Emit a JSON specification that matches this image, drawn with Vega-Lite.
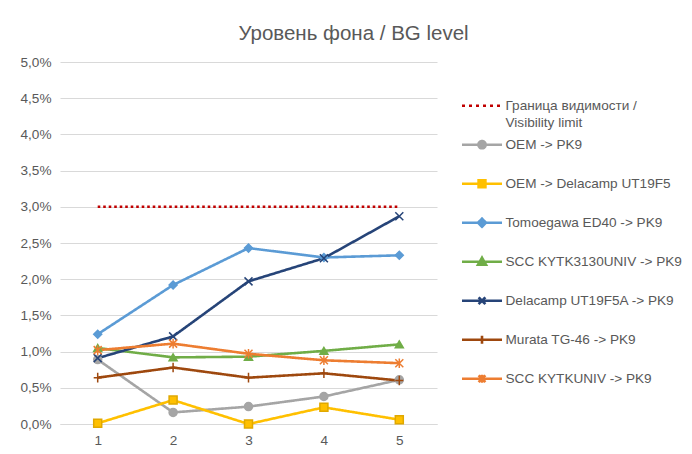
{
  "$schema": "https://vega.github.io/schema/vega-lite/v6.json",
  "width": 377,
  "height": 362,
  "autosize": "none",
  "padding": {"left": 60, "top": 62, "right": 255, "bottom": 30},
  "background": "white",
  "config": {
    "font": "Liberation Sans",
    "view": {"stroke": null}
  },
  "title": {
    "text": "Уровень фона / BG level",
    "font": "Liberation Sans",
    "fontSize": 20.5,
    "fontWeight": "normal",
    "color": "#595959",
    "anchor": "middle",
    "dx": 105,
    "offset": 11
  },
  "data": {
    "values": [
      {"x": "1", "series": "Граница видимости / Visibility limit", "v": 3.0},
      {"x": "2", "series": "Граница видимости / Visibility limit", "v": 3.0},
      {"x": "3", "series": "Граница видимости / Visibility limit", "v": 3.0},
      {"x": "4", "series": "Граница видимости / Visibility limit", "v": 3.0},
      {"x": "5", "series": "Граница видимости / Visibility limit", "v": 3.0},
      {"x": "1", "series": "OEM -> PK9", "v": 0.89},
      {"x": "2", "series": "OEM -> PK9", "v": 0.16},
      {"x": "3", "series": "OEM -> PK9", "v": 0.24},
      {"x": "4", "series": "OEM -> PK9", "v": 0.38},
      {"x": "5", "series": "OEM -> PK9", "v": 0.61},
      {"x": "1", "series": "OEM -> Delacamp UT19F5", "v": 0.01},
      {"x": "2", "series": "OEM -> Delacamp UT19F5", "v": 0.33},
      {"x": "3", "series": "OEM -> Delacamp UT19F5", "v": 0.0},
      {"x": "4", "series": "OEM -> Delacamp UT19F5", "v": 0.23},
      {"x": "5", "series": "OEM -> Delacamp UT19F5", "v": 0.06},
      {"x": "1", "series": "Tomoegawa ED40 -> PK9", "v": 1.24},
      {"x": "2", "series": "Tomoegawa ED40 -> PK9", "v": 1.92},
      {"x": "3", "series": "Tomoegawa ED40 -> PK9", "v": 2.43},
      {"x": "4", "series": "Tomoegawa ED40 -> PK9", "v": 2.3},
      {"x": "5", "series": "Tomoegawa ED40 -> PK9", "v": 2.33},
      {"x": "1", "series": "SCC KYTK3130UNIV -> PK9", "v": 1.05},
      {"x": "2", "series": "SCC KYTK3130UNIV -> PK9", "v": 0.92},
      {"x": "3", "series": "SCC KYTK3130UNIV -> PK9", "v": 0.93},
      {"x": "4", "series": "SCC KYTK3130UNIV -> PK9", "v": 1.01},
      {"x": "5", "series": "SCC KYTK3130UNIV -> PK9", "v": 1.1},
      {"x": "1", "series": "Delacamp UT19F5A -> PK9", "v": 0.91},
      {"x": "2", "series": "Delacamp UT19F5A -> PK9", "v": 1.21},
      {"x": "3", "series": "Delacamp UT19F5A -> PK9", "v": 1.97},
      {"x": "4", "series": "Delacamp UT19F5A -> PK9", "v": 2.29},
      {"x": "5", "series": "Delacamp UT19F5A -> PK9", "v": 2.87},
      {"x": "1", "series": "Murata TG-46 -> PK9", "v": 0.64},
      {"x": "2", "series": "Murata TG-46 -> PK9", "v": 0.78},
      {"x": "3", "series": "Murata TG-46 -> PK9", "v": 0.64},
      {"x": "4", "series": "Murata TG-46 -> PK9", "v": 0.7},
      {"x": "5", "series": "Murata TG-46 -> PK9", "v": 0.6},
      {"x": "1", "series": "SCC KYTKUNIV -> PK9", "v": 1.02},
      {"x": "2", "series": "SCC KYTKUNIV -> PK9", "v": 1.11},
      {"x": "3", "series": "SCC KYTKUNIV -> PK9", "v": 0.97},
      {"x": "4", "series": "SCC KYTKUNIV -> PK9", "v": 0.88},
      {"x": "5", "series": "SCC KYTKUNIV -> PK9", "v": 0.84}
    ]
  },
  "encoding": {
    "x": {
      "field": "x",
      "type": "ordinal",
      "scale": {"type": "point", "padding": 0.5},
      "axis": {
        "title": null,
        "labelAngle": 0,
        "labelFontSize": 13.6,
        "labelColor": "#595959",
        "labelFont": "Liberation Sans",
        "ticks": false,
        "labelPadding": 9,
        "domain": true,
        "domainColor": "#D9D9D9",
        "domainWidth": 1,
        "grid": false
      }
    },
    "y": {
      "field": "v",
      "type": "quantitative",
      "scale": {"domain": [0, 5], "nice": false, "zero": true},
      "axis": {
        "title": null,
        "values": [0, 0.5, 1, 1.5, 2, 2.5, 3, 3.5, 4, 4.5, 5],
        "labelExpr": "replace(format(datum.value, '.1f'), '.', ',') + '%'",
        "labelFontSize": 13.6,
        "labelColor": "#595959",
        "labelFont": "Liberation Sans",
        "ticks": false,
        "domain": false,
        "labelPadding": 9,
        "gridColor": "#D9D9D9",
        "gridWidth": 1
      }
    }
  },
  "layer": [
    {
      "mark": {"type": "line", "strokeWidth": 2.6, "strokeJoin": "round"},
      "encoding": {
        "color": {
          "field": "series",
          "type": "nominal",
          "scale": {
            "domain": ["Граница видимости / Visibility limit", "OEM -> PK9", "OEM -> Delacamp UT19F5", "Tomoegawa ED40 -> PK9", "SCC KYTK3130UNIV -> PK9", "Delacamp UT19F5A -> PK9", "Murata TG-46 -> PK9", "SCC KYTKUNIV -> PK9"],
            "range": ["#C00000", "#A5A5A5", "#FFC000", "#5B9BD5", "#70AD47", "#264478", "#9E480E", "#ED7D31"]
          },
          "legend": {
            "title": null,
            "orient": "none",
            "legendX": 400.5,
            "legendY": 33.7,
            "padding": 0,
            "rowPadding": 0,
            "symbolSize": 1600,
            "symbolStrokeWidth": 2.6,
            "labelFontSize": 13.6,
            "labelFont": "Liberation Sans",
            "labelColor": "#595959",
            "labelLimit": 300,
            "labelOffset": 2,
            "labelExpr": "datum.label === 'Граница видимости / Visibility limit' ? ['Граница видимости /', 'Visibility limit'] : datum.label",
            "encode": {
              "labels": {
                "update": {
                  "lineHeight": {"value": 17},
                  "y": {"value": 10}
                }
              },
              "symbols": {
                "update": {
                  "y": {"value": 10},
                  "shape": {"signal": "'M0,1.17' + (datum.value === 'OEM -> PK9' ? 'M-1,0H1M-0.18,0A0.18,0.18 0 1,0 0.18,0A0.18,0.18 0 1,0 -0.18,0Z' : datum.value === 'OEM -> Delacamp UT19F5' ? 'M-1,0H1M-0.17,-0.17H0.17V0.17H-0.17Z' : datum.value === 'Tomoegawa ED40 -> PK9' ? 'M-1,0H1M0,-0.2L0.2,0L0,0.2L-0.2,0Z' : datum.value === 'SCC KYTK3130UNIV -> PK9' ? 'M-1,0H1M0,-0.2L0.2,0.15L-0.2,0.15Z' : datum.value === 'Delacamp UT19F5A -> PK9' ? 'M-1,0H1M-0.17,-0.17L0.17,0.17M-0.17,0.17L0.17,-0.17' : datum.value === 'Murata TG-46 -> PK9' ? 'M-1,0H1M0,-0.2V0.2' : datum.value === 'SCC KYTKUNIV -> PK9' ? 'M-1,0H1M-0.17,-0.17L0.17,0.17M-0.17,0.17L0.17,-0.17M0,-0.2V0.2' : 'M-1,0H1')"},
                  "fill": {"scale": "color", "field": "value"},
                  "stroke": {"scale": "color", "field": "value"},
                  "strokeWidth": {"value": 2.6},
                  "strokeDash": {"signal": "datum.value === 'Граница видимости / Visibility limit' ? [3, 4] : [1, 0]"},
                  "opacity": {"value": 1}
                }
              }
            }
          }
        },
        "strokeDash": {
          "condition": {"test": "datum.series === 'Граница видимости / Visibility limit'", "value": [2.6, 2.9]},
          "value": [1, 0]
        }
      }
    },
    {
      "transform": [{"filter": "datum.series !== 'Граница видимости / Visibility limit'"}],
      "mark": {"type": "point", "filled": true, "opacity": 1, "size": 64, "strokeWidth": 1.5},
      "encoding": {
        "shape": {
          "field": "series",
          "type": "nominal",
          "scale": {
            "domain": ["OEM -> PK9", "OEM -> Delacamp UT19F5", "Tomoegawa ED40 -> PK9", "SCC KYTK3130UNIV -> PK9", "Delacamp UT19F5A -> PK9", "Murata TG-46 -> PK9", "SCC KYTKUNIV -> PK9"],
            "range": ["circle", "square", "diamond", "triangle-up", "M-1,-1L1,1M-1,1L1,-1", "M0,-1.2V1.2M-1,0H1", "M-1,-1L1,1M-1,1L1,-1M0,-1.2V1.2"]
          },
          "legend": null
        },
        "fill": {
          "field": "series",
          "type": "nominal",
          "scale": {
            "domain": ["OEM -> PK9", "OEM -> Delacamp UT19F5", "Tomoegawa ED40 -> PK9", "SCC KYTK3130UNIV -> PK9", "Delacamp UT19F5A -> PK9", "Murata TG-46 -> PK9", "SCC KYTKUNIV -> PK9"],
            "range": ["#A5A5A5", "#FFC000", "#5B9BD5", "#70AD47", "#264478", "#9E480E", "#ED7D31"]
          },
          "legend": null
        },
        "stroke": {
          "field": "series",
          "type": "nominal",
          "scale": {
            "domain": ["OEM -> PK9", "OEM -> Delacamp UT19F5", "Tomoegawa ED40 -> PK9", "SCC KYTK3130UNIV -> PK9", "Delacamp UT19F5A -> PK9", "Murata TG-46 -> PK9", "SCC KYTKUNIV -> PK9"],
            "range": ["#A5A5A5", "#E0A800", "#5B9BD5", "#70AD47", "#264478", "#9E480E", "#ED7D31"]
          },
          "legend": null
        }
      }
    }
  ]
}
